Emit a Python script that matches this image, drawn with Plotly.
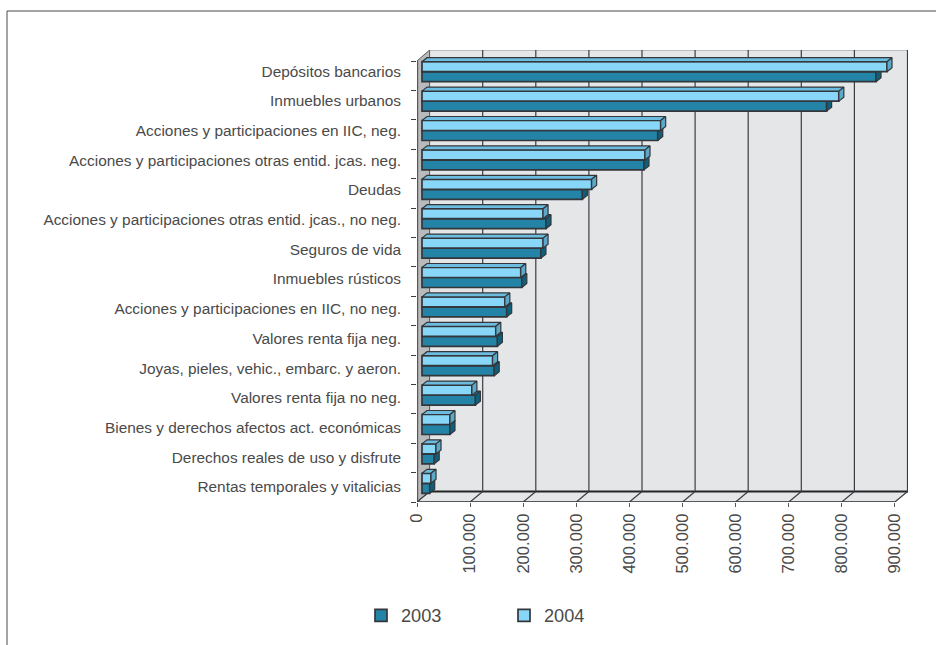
import plotly.graph_objects as go

categories = ["Depósitos bancarios", "Inmuebles urbanos", "Acciones y participaciones en IIC, neg.",
              "Acciones y participaciones otras entid. jcas. neg.", "Deudas",
              "Acciones y participaciones otras entid. jcas., no neg.", "Seguros de vida",
              "Inmuebles rústicos", "Acciones y participaciones en IIC, no neg.", "Valores renta fija neg.",
              "Joyas, pieles, vehic., embarc. y aeron.", "Valores renta fija no neg.",
              "Bienes y derechos afectos act. económicas", "Derechos reales de uso y disfrute",
              "Rentas temporales y vitalicias"]
values_2003 = [855000, 762000, 444000, 418000, 302000, 233500, 224000, 188000, 159500, 142000, 136000, 100500, 52700, 23000, 14500]
values_2004 = [875700, 785000, 449500, 420000, 319500, 228000, 228000, 186000, 156000, 139000, 133000, 94000, 52700, 26400, 17000]
x_ticks = [0, 100000, 200000, 300000, 400000, 500000, 600000, 700000, 800000, 900000]
x_tick_text = ["0", "100.000", "200.000", "300.000", "400.000", "500.000", "600.000", "700.000", "800.000", "900.000"]

W, H = 936, 645
PX_PER_X = 0.000531
BAND = 29.4
X_MAX = (908 - 417) / PX_PER_X
Y_MAX = (502 - 50) / BAND
BACK_X, BACK_Y = 12.6 / PX_PER_X, 10.5 / BAND
OFF_X, OFF_Y = 5 / PX_PER_X, 4 / BAND
HALF = 10 / BAND
OUT = "#33363a"
n = len(categories)
band_index = [n - 1 - i for i in range(n)]
centers = [b + 0.5 + OFF_Y for b in band_index]
label_pos = [(502 - (487 - 29.7 * b)) / BAND for b in band_index]

fig = go.Figure()


def add_series(name, values, face, cap, side, offset_sign, xa, ya):
    ys = [c + offset_sign * HALF / 2 for c in centers]
    fig.add_trace(go.Bar(name=name, y=ys, x=values, base=OFF_X, width=HALF, orientation="h",
                         marker=dict(color=face, line=dict(color=OUT, width=1.7)),
                         xaxis=xa, yaxis=ya, hoverinfo="skip"))
    for v, y in zip(values, ys):
        e = OFF_X + v
        t, b = y + HALF / 2, y - HALF / 2
        fig.add_trace(go.Scatter(x=[OFF_X, e, e + OFF_X, OFF_X + OFF_X, OFF_X], y=[t, t, t + OFF_Y, t + OFF_Y, t],
                                 fill="toself", fillcolor=cap, mode="lines", line=dict(color=OUT, width=1.2),
                                 showlegend=False, hoverinfo="skip", xaxis=xa, yaxis=ya))
        fig.add_trace(go.Scatter(x=[e, e + OFF_X, e + OFF_X, e, e], y=[t, t + OFF_Y, b + OFF_Y, b, t],
                                 fill="toself", fillcolor=side, mode="lines", line=dict(color=OUT, width=1.2),
                                 showlegend=False, hoverinfo="skip", xaxis=xa, yaxis=ya))


add_series("2003", values_2003, "#2484a8", "#1f7596", "#0f5f7a", -1, "x", "y")
add_series("2004", values_2004, "#88d6f8", "#6cbcdf", "#5ba8c9", 1, "x2", "y2")

shapes = [
    dict(type="rect", x0=BACK_X, x1=X_MAX, y0=BACK_Y, y1=Y_MAX, fillcolor="#e5e6e8", line=dict(width=0), layer="below"),
    dict(type="path", path=f"M 0 0 L {BACK_X} {BACK_Y} L {X_MAX} {BACK_Y} L 900000 0 Z", fillcolor="#e5e6e8", line=dict(width=0), layer="below"),
    dict(type="path", path=f"M 0 0 L 0 {n} L {BACK_X} {Y_MAX} L {BACK_X} {BACK_Y} Z", fillcolor="#b9babc", line=dict(color="#55585c", width=1), layer="below"),
    dict(type="line", x0=BACK_X, x1=X_MAX, y0=Y_MAX, y1=Y_MAX, line=dict(color="#8d8f92", width=1.2), layer="below"),
    dict(type="line", x0=X_MAX, x1=X_MAX, y0=BACK_Y, y1=Y_MAX, line=dict(color="#3a3d42", width=1.2), layer="below"),
    dict(type="line", x0=BACK_X, x1=X_MAX, y0=BACK_Y, y1=BACK_Y, line=dict(color="#222426", width=2), layer="below"),
    dict(type="line", x0=0, x1=900000, y0=0, y1=0, line=dict(color="#55585c", width=2), layer="below"),
    dict(type="line", x0=0, x1=0, y0=0, y1=n, line=dict(color="#55585c", width=2.4), layer="below"),
    dict(type="line", xref="paper", yref="paper", x0=7 / W, x1=1, y0=1 - 11 / H, y1=1 - 11 / H, line=dict(color="#4a4a4a", width=1)),
    dict(type="line", xref="paper", yref="paper", x0=7 / W, x1=7 / W, y0=0, y1=1 - 11 / H, line=dict(color="#4a4a4a", width=1)),
]
for v in x_ticks:
    shapes.append(dict(type="line", x0=v, x1=v + BACK_X, y0=0, y1=BACK_Y, line=dict(color="#3a3d42", width=1.2), layer="below"))
    if v > 0:
        shapes.append(dict(type="line", x0=v + BACK_X, x1=v + BACK_X, y0=BACK_Y, y1=Y_MAX, line=dict(color="#3a3d42", width=1.2), layer="below"))

font = dict(family="Liberation Sans, Arial, sans-serif", size=15.4, color="#4a4a4a")
fig.update_layout(
    width=W, height=H, margin=dict(l=0, r=0, t=0, b=0, autoexpand=False),
    paper_bgcolor="white", plot_bgcolor="white", barmode="overlay", font=font, shapes=shapes,
    xaxis=dict(domain=[417 / W, 908 / W], range=[0, X_MAX], tickmode="array", tickvals=x_ticks, ticktext=x_tick_text,
               tickangle=-90, ticks="outside", ticklen=4, tickcolor="#55585c", tickwidth=1.2, showgrid=False,
               zeroline=False, showline=False, ticklabelstandoff=0, tickfont=dict(size=16.6)),
    yaxis=dict(domain=[1 - 502 / H, 1 - 50 / H], range=[0, Y_MAX], tickmode="array", tickvals=label_pos, ticktext=categories,
               ticks="", showgrid=False, zeroline=False, showline=False, ticklabelstandoff=15,
               minor=dict(tickmode="array", tickvals=list(range(n + 1)), ticks="outside", ticklen=5, tickcolor="#3a3d42", tickwidth=1.2, showgrid=False)),
    xaxis2=dict(overlaying="x", matches="x", visible=False),
    yaxis2=dict(overlaying="y", matches="y", visible=False),
    legend=dict(orientation="h", x=361 / W, xanchor="left", y=1 - 597 / H, yanchor="top", entrywidth=98, entrywidthmode="pixels",
                font=dict(size=18.2, color="#4a4a4a"), bgcolor="rgba(0,0,0,0)"),
    showlegend=True,
)
fig.write_html("out.html", config=dict(displayModeBar=False), post_script="document.body.style.margin='0';")
